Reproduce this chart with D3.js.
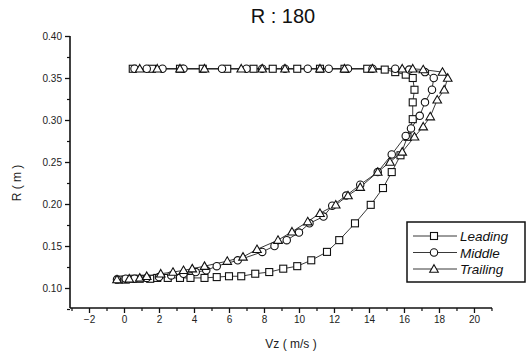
<!DOCTYPE html>
<html>
<head>
<meta charset="utf-8">
<script src="https://cdn.jsdelivr.net/npm/d3@7/dist/d3.min.js"></script>
<style>
  html, body { margin: 0; padding: 0; background: #fff; }
  svg { display: block; font-family: Arial, "Liberation Sans", sans-serif; }
</style>
</head>
<body>
<svg id="chart" width="531" height="358"></svg>
<script>
// ---- data ----
const titleText = "R : 180";
const xLabelText = "Vz ( m/s )";
const yLabelText = "R ( m )";
const seriesNames = ["Leading", "Middle", "Trailing"];

const xTicks = [-2, 0, 2, 4, 6, 8, 10, 12, 14, 16, 18, 20];
const yTicks = [0.10, 0.15, 0.20, 0.25, 0.30, 0.35, 0.40];
const yTickLabels = ["0.10", "0.15", "0.20", "0.25", "0.30", "0.35", "0.40"];

const leadingV = [-0.3, 0.1, 0.5, 0.9, 1.5, 1.9, 2.5, 3.2, 3.8, 4.6, 5.3, 6.0, 6.7, 7.5, 8.3, 9.1, 9.9, 10.7, 11.6, 12.3, 13.2, 14.1, 14.8, 15.3, 15.8, 16.2, 16.5, 16.5, 16.6, 16.5, 16.1, 15.5,
  14.9, 13.9, 12.6, 11.2, 9.9, 8.5, 7.4, 5.9, 4.5, 3.2, 1.6, 0.5];
const leadingR = [0.110, 0.110, 0.111, 0.111, 0.111, 0.112, 0.112, 0.112, 0.112, 0.112, 0.113, 0.114, 0.114, 0.117, 0.119, 0.123, 0.126, 0.133, 0.143, 0.157, 0.177, 0.199, 0.219, 0.238, 0.258, 0.280, 0.301, 0.321, 0.336, 0.350, 0.354, 0.357,
  0.360, 0.361, 0.361, 0.361, 0.361, 0.361, 0.361, 0.361, 0.361, 0.361, 0.361, 0.361];

const middleV = [-0.4, 0.1, 0.6, 1.3, 2.0, 2.7, 3.4, 4.1, 4.7, 5.3, 6.5, 7.9, 8.6, 9.3, 10.0, 10.6, 11.4, 11.9, 12.7, 13.5, 14.5, 15.3, 16.1, 16.4, 16.9, 17.2, 17.6, 17.7, 17.2,
  16.3, 15.5, 14.2, 12.8, 11.7, 10.5, 9.2, 7.9, 7.0, 5.6, 3.4, 2.2, 1.3, 0.6];
const middleR = [0.110, 0.111, 0.111, 0.112, 0.113, 0.115, 0.117, 0.119, 0.121, 0.126, 0.133, 0.143, 0.150, 0.157, 0.166, 0.177, 0.185, 0.198, 0.210, 0.223, 0.238, 0.259, 0.281, 0.290, 0.305, 0.321, 0.336, 0.350, 0.357,
  0.360, 0.361, 0.361, 0.361, 0.361, 0.361, 0.361, 0.361, 0.361, 0.361, 0.361, 0.361, 0.361, 0.361];

const trailingV = [-0.4, 0.3, 0.9, 1.3, 2.1, 2.8, 3.4, 3.9, 4.6, 5.9, 6.8, 7.6, 8.8, 9.6, 10.5, 11.2, 12.1, 12.8, 13.5, 14.5, 15.2, 15.9, 16.6, 17.1, 17.5, 17.9, 18.3, 18.5, 18.2, 17.1,
  16.5, 15.9, 14.2, 12.6, 11.2, 9.2, 7.9, 6.7, 4.6, 3.2, 1.9, 0.9];
const trailingR = [0.110, 0.111, 0.112, 0.114, 0.117, 0.119, 0.121, 0.123, 0.126, 0.132, 0.137, 0.146, 0.157, 0.167, 0.179, 0.189, 0.199, 0.210, 0.220, 0.238, 0.250, 0.262, 0.280, 0.292, 0.304, 0.324, 0.336, 0.350, 0.357, 0.360,
  0.361, 0.361, 0.361, 0.361, 0.361, 0.361, 0.361, 0.361, 0.361, 0.361, 0.361, 0.361];

// ---- layout ----
const svg = d3.select("#chart");
const plotLeft = 70, plotRight = 492, plotTop = 36, plotBottom = 308;

const x = d3.scaleLinear().domain([-3.086, 21.03]).range([plotLeft, plotRight]);
const y = d3.scaleLinear().domain([0.0762, 0.40]).range([plotBottom, plotTop]);

svg.append("rect").attr("width", 531).attr("height", 358).attr("fill", "#fff");

// title
svg.append("text").attr("x", 283).attr("y", 23).attr("text-anchor", "middle")
  .attr("font-size", 20).attr("fill", "#111").text(titleText);

// axes
const xMinor = d3.range(-3, 21.5, 1).filter(v => v % 2 !== 0);
const yMinor = d3.range(0.075, 0.41, 0.025).map(v => +v.toFixed(3)).filter(v => Math.abs(v * 20 - Math.round(v * 20)) > 1e-6);

const xAxis = d3.axisBottom(x).tickValues(xTicks).tickSize(5).tickPadding(3).tickFormat(d3.format("d"));
const gx = svg.append("g").attr("transform", `translate(0,${plotBottom})`).call(xAxis);
gx.select(".domain").attr("stroke", "#111").attr("stroke-width", 1.6).attr("d", `M${plotLeft},0H${plotRight}`);
gx.selectAll(".tick line").attr("stroke", "#111").attr("stroke-width", 1.3);
gx.selectAll(".tick text").attr("font-size", 10).attr("fill", "#222").attr("font-family", "Arial, 'Liberation Sans', sans-serif");
const gxm = svg.append("g").attr("transform", `translate(0,${plotBottom})`)
  .call(d3.axisBottom(x).tickValues(xMinor).tickSize(3).tickFormat(""));
gxm.select(".domain").remove();
gxm.selectAll(".tick line").attr("stroke", "#111").attr("stroke-width", 1.2);

const yAxis = d3.axisLeft(y).tickValues(yTicks).tickSize(5).tickPadding(3).tickFormat((d, i) => yTickLabels[i]);
const gy = svg.append("g").attr("transform", `translate(${plotLeft},0)`).call(yAxis);
gy.select(".domain").attr("stroke", "#111").attr("stroke-width", 1.6).attr("d", `M0,${plotTop}V${plotBottom}`);
gy.selectAll(".tick line").attr("stroke", "#111").attr("stroke-width", 1.3);
gy.selectAll(".tick text").attr("font-size", 10).attr("fill", "#222").attr("font-family", "Arial, 'Liberation Sans', sans-serif");
const gym = svg.append("g").attr("transform", `translate(${plotLeft},0)`)
  .call(d3.axisLeft(y).tickValues(yMinor).tickSize(3).tickFormat(""));
gym.select(".domain").remove();
gym.selectAll(".tick line").attr("stroke", "#111").attr("stroke-width", 1.2);

// axis labels
svg.append("text").attr("x", 291).attr("y", 348).attr("text-anchor", "middle")
  .attr("font-size", 12).attr("fill", "#222").text(xLabelText);
svg.append("text").attr("transform", "translate(21,183) rotate(-90)").attr("text-anchor", "middle")
  .attr("font-size", 12).attr("fill", "#222").text(yLabelText);

// series
const series = [
  { name: seriesNames[0], v: leadingV, r: leadingR, shape: "square" },
  { name: seriesNames[1], v: middleV, r: middleR, shape: "circle" },
  { name: seriesNames[2], v: trailingV, r: trailingR, shape: "triangle" }
];

function marker(g, shape, cx, cy) {
  if (shape === "square") {
    g.append("rect").attr("x", cx - 3.5).attr("y", cy - 3.5).attr("width", 7).attr("height", 7)
      .attr("fill", "#fff").attr("stroke", "#111").attr("stroke-width", 1.1);
  } else if (shape === "circle") {
    g.append("circle").attr("cx", cx).attr("cy", cy).attr("r", 3.7)
      .attr("fill", "#fff").attr("stroke", "#111").attr("stroke-width", 1.1);
  } else {
    g.append("path").attr("d", `M${cx},${cy - 4.3}L${cx + 4.3},${cy + 3.2}L${cx - 4.3},${cy + 3.2}Z`)
      .attr("fill", "#fff").attr("stroke", "#111").attr("stroke-width", 1.1);
  }
}

const line = d3.line().x(d => x(d[0])).y(d => y(d[1]));
series.forEach(s => {
  const pts = s.v.map((v, i) => [v, s.r[i]]);
  svg.append("path").datum(pts).attr("d", line).attr("fill", "none")
    .attr("stroke", "#222").attr("stroke-width", 0.9);
});
series.forEach(s => {
  const g = svg.append("g");
  s.v.forEach((v, i) => marker(g, s.shape, x(v), y(s.r[i])));
});

// legend
const lg = svg.append("g");
lg.append("rect").attr("x", 407).attr("y", 222).attr("width", 118).attr("height", 60)
  .attr("fill", "#fff").attr("stroke", "#111").attr("stroke-width", 1.5);
series.forEach((s, i) => {
  const ly = 236 + i * 16.5;
  lg.append("line").attr("x1", 413).attr("x2", 457).attr("y1", ly).attr("y2", ly)
    .attr("stroke", "#222").attr("stroke-width", 0.9);
  marker(lg, s.shape, 434, ly);
  lg.append("text").attr("x", 460).attr("y", ly + 5).attr("font-size", 13.5)
    .attr("font-style", "italic").attr("fill", "#111").text(s.name);
});
</script>
</body>
</html>
